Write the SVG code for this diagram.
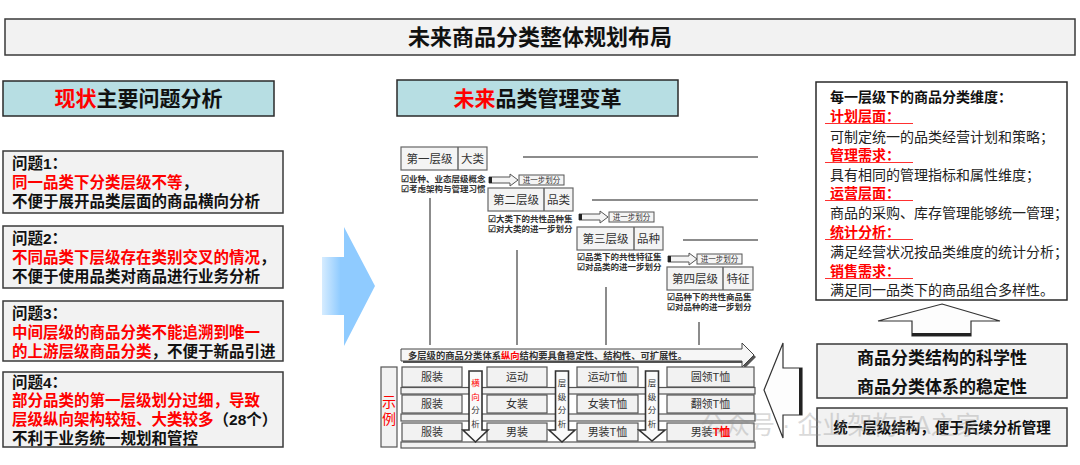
<svg xmlns="http://www.w3.org/2000/svg" width="1080" height="465" viewBox="0 0 1080 465">
<style>
text{font-family:"Liberation Sans","Noto Sans CJK SC",sans-serif;}
.box{fill:#f2f2f2;stroke:#3a3a3a;stroke-width:1.5;}
.hdr{fill:#b7dee3;stroke:#2a2a2a;stroke-width:1.5;}
.big{font-size:21px;font-weight:bold;fill:#111;}
.pb{font-size:15.5px;font-weight:bold;fill:#111;}
.red{fill:#ff0000;}
.lv{fill:#f4f4f4;stroke:#666;stroke-width:1.2;}
.lvt{font-size:11.5px;fill:#333;text-anchor:middle;}
.chk{font-size:8.5px;font-weight:bold;fill:#333;}
.sm{font-size:7.5px;fill:#333;text-anchor:middle;}
.ln{stroke:#666;stroke-width:1.5;fill:none;}
.sa{fill:#f4f4f4;stroke:#555;stroke-width:1;}
.cell{fill:#f2f2f2;stroke:#555;stroke-width:1.2;}
.ct{font-size:11px;fill:#333;text-anchor:middle;}
.da{fill:#fafafa;stroke:#333;stroke-width:1.6;}
.dt{font-size:8.5px;fill:#333;text-anchor:middle;}
.rp{font-size:14px;fill:#222;}
.rl{font-size:14px;font-weight:bold;fill:#ff0000;}
.ul{stroke:#ff3030;stroke-width:1.2;}
.blk{fill:#fdfdfd;stroke:#333;stroke-width:1.2;}
</style>
<defs>
<linearGradient id="blue" x1="0" y1="0" x2="1" y2="0">
<stop offset="0" stop-color="#d6ecff"/>
<stop offset="0.35" stop-color="#8fcbff"/>
<stop offset="1" stop-color="#8fcbff"/>
</linearGradient>
<clipPath id="rclip"><rect x="817" y="82" width="250" height="218"/></clipPath>
</defs>

<!-- title -->
<g id="title">
<rect class="box" x="5" y="19" width="1070" height="36"/>
<text x="540" y="45" class="big" style="font-size:22px" text-anchor="middle">未来商品分类整体规划布局</text>
</g>

<!-- headers -->
<g id="hdr-left">
<rect class="hdr" x="3" y="81" width="271" height="35"/>
<text x="138.5" y="106" class="big" text-anchor="middle"><tspan class="red">现状</tspan>主要问题分析</text>
</g>
<g id="hdr-mid">
<rect class="hdr" x="397" y="80" width="281" height="36"/>
<text x="537.5" y="105.5" class="big" text-anchor="middle"><tspan class="red">未来</tspan>品类管理变革</text>
</g>

<!-- problems -->
<g id="problem1">
<rect class="box" x="3" y="151" width="280" height="62"/>
<text x="12" y="169" class="pb">问题1：</text>
<text x="12" y="188" class="pb"><tspan class="red">同一品类下分类层级不等</tspan>，</text>
<text x="12" y="207" class="pb">不便于展开品类层面的商品横向分析</text>
</g>
<g id="problem2">
<rect class="box" x="3" y="226" width="280" height="62"/>
<text x="12" y="244" class="pb">问题2：</text>
<text x="12" y="263" class="pb"><tspan class="red">不同品类下层级存在类别交叉的情况</tspan>，</text>
<text x="12" y="282" class="pb">不便于使用品类对商品进行业务分析</text>
</g>
<g id="problem3">
<rect class="box" x="3" y="301" width="280" height="60"/>
<text x="12" y="319" class="pb">问题3：</text>
<text x="12" y="338" class="pb"><tspan class="red">中间层级的商品分类不能追溯到唯一</tspan></text>
<text x="12" y="357" class="pb"><tspan class="red">的上游层级商品分类</tspan>，不便于新品引进</text>
</g>
<g id="problem4">
<rect class="box" x="3" y="372" width="280" height="75"/>
<text x="12" y="388" class="pb">问题4：</text>
<text x="12" y="406" class="pb"><tspan class="red">部分品类的第一层级划分过细，导致</tspan></text>
<text x="12" y="425" class="pb"><tspan class="red">层级纵向架构较短、大类较多</tspan>（28个）</text>
<text x="12" y="444" class="pb">不利于业务统一规划和管控</text>
</g>

<!-- blue arrow -->
<g id="blue-arrow">
<polygon points="322,257 344,257 344,227 375,286 344,346 344,315 322,315" fill="url(#blue)"/>
</g>

<!-- connectors / lines of staircase -->
<g id="connectors">
<line class="ln" x1="523" y1="157" x2="758" y2="157"/>
<line class="ln" x1="592" y1="200" x2="758" y2="200"/>
<line class="ln" x1="683" y1="240" x2="758" y2="240"/>
<line class="ln" x1="430" y1="198" x2="430" y2="345"/>
<line class="ln" x1="517" y1="250" x2="517" y2="345"/>
<line class="ln" x1="606" y1="287" x2="606" y2="345"/>
<line class="ln" x1="699" y1="322" x2="699" y2="345"/>
</g>

<!-- level 1 -->
<g id="level1">
<rect class="lv" x="401" y="147" width="86" height="23"/>
<line class="ln" x1="458" y1="147" x2="458" y2="170" stroke-width="1.2"/>
<text x="429.5" y="163" class="lvt">第一层级</text>
<text x="472.5" y="163" class="lvt">大类</text>
<text x="401" y="182" class="chk">☑业种、业态层级概念</text>
<text x="401" y="191.5" class="chk">☑考虑架构与管理习惯</text>
<polygon class="sa" points="489,177 510,177 510,174 518,180 510,186 510,183 489,183"/>
<rect x="489" y="177" width="3" height="6" fill="#222"/>
<rect class="sa" x="519" y="175" width="45" height="10"/>
<text x="541.5" y="182.8" class="sm">进一步划分</text>
</g>

<!-- level 2 -->
<g id="level2">
<rect class="lv" x="488" y="188" width="85" height="23"/>
<line class="ln" x1="544" y1="188" x2="544" y2="211" stroke-width="1.2"/>
<text x="516" y="204" class="lvt">第二层级</text>
<text x="558.5" y="204" class="lvt">品类</text>
<text x="488" y="222" class="chk">☑大类下的共性品种集</text>
<text x="488" y="232" class="chk">☑对大类的进一步划分</text>
<polygon class="sa" points="579,214 600,214 600,211 608,217 600,223 600,220 579,220"/>
<rect x="579" y="214" width="3" height="6" fill="#222"/>
<rect class="sa" x="609" y="212" width="45" height="10"/>
<text x="631.5" y="219.8" class="sm">进一步划分</text>
</g>

<!-- level 3 -->
<g id="level3">
<rect class="lv" x="577" y="227" width="86" height="23"/>
<line class="ln" x1="634" y1="227" x2="634" y2="250" stroke-width="1.2"/>
<text x="605.5" y="243" class="lvt">第三层级</text>
<text x="648.5" y="243" class="lvt">品种</text>
<text x="577" y="260" class="chk">☑品类下的共性特征集</text>
<text x="577" y="270" class="chk">☑对品类的进一步划分</text>
<polygon class="sa" points="668,256 689,256 689,253 697,259 689,265 689,262 668,262"/>
<rect x="668" y="256" width="3" height="6" fill="#222"/>
<rect class="sa" x="697" y="254" width="45" height="10"/>
<text x="719.5" y="261.8" class="sm">进一步划分</text>
</g>

<!-- level 4 -->
<g id="level4">
<rect class="lv" x="667" y="267" width="86" height="23"/>
<line class="ln" x1="723" y1="267" x2="723" y2="290" stroke-width="1.2"/>
<text x="695" y="283" class="lvt">第四层级</text>
<text x="738" y="283" class="lvt">特征</text>
<text x="667" y="300" class="chk">☑品种下的共性商品集</text>
<text x="667" y="310" class="chk">☑对品种的进一步划分</text>
</g>

<!-- big horizontal arrow -->
<g id="stability-arrow">
<polygon points="403,351 744,351 744,345 756,357 744,369 744,363 403,363" fill="#555"/>
<polygon points="401,349 742,349 742,343 754,355 742,367 742,361 401,361" fill="#f6f6f6" stroke="#444" stroke-width="1"/>
<text x="408" y="358.5" class="chk" style="font-size:9.3px">多层级的商品分类体系<tspan class="red">纵向</tspan>结构要具备稳定性、结构性、可扩展性。</text>
</g>

<!-- example table -->
<g id="example">
<rect class="cell" x="381" y="367" width="16" height="80"/>
<text x="389" y="407" font-size="14" fill="#ff0000" text-anchor="middle">示</text>
<text x="389" y="424" font-size="14" fill="#ff0000" text-anchor="middle">例</text>
<rect class="cell" x="401" y="387.5" width="354" height="6.5"/>
<rect class="cell" x="401" y="414" width="354" height="7"/>
<rect class="cell" x="401" y="442" width="354" height="6"/>
<rect class="cell" x="402" y="367" width="60" height="20"/>
<rect class="cell" x="402" y="395" width="60" height="18"/>
<rect class="cell" x="402" y="423" width="60" height="18"/>
<text x="432" y="381" class="ct">服装</text>
<text x="432" y="408" class="ct">服装</text>
<text x="432" y="436" class="ct">服装</text>
<rect class="cell" x="487" y="367" width="60" height="20"/>
<rect class="cell" x="487" y="395" width="60" height="18"/>
<rect class="cell" x="487" y="423" width="60" height="18"/>
<text x="517" y="381" class="ct">运动</text>
<text x="517" y="408" class="ct">女装</text>
<text x="517" y="436" class="ct">男装</text>
<rect class="cell" x="577" y="367" width="61" height="20"/>
<rect class="cell" x="577" y="395" width="61" height="18"/>
<rect class="cell" x="577" y="423" width="61" height="18"/>
<text x="607.5" y="381" class="ct">运动T恤</text>
<text x="607.5" y="408" class="ct">女装T恤</text>
<text x="607.5" y="436" class="ct">男装T恤</text>
<rect class="cell" x="667" y="367" width="87" height="20"/>
<rect class="cell" x="667" y="395" width="87" height="18"/>
<rect class="cell" x="667" y="423" width="87" height="18"/>
<text x="710.5" y="381" class="ct">圆领T恤</text>
<text x="710.5" y="408" class="ct">翻领T恤</text>
<text x="710.5" y="436" class="ct">男装<tspan fill="#ff0000" font-weight="bold">T恤</tspan></text>
<polygon class="da" points="469,371 482,371 482,430 488,430 475.5,442 463,430 469,430"/>
<text x="475.5" y="386" class="dt" style="fill:#ff0000">横</text>
<text x="475.5" y="399.5" class="dt" style="fill:#ff0000">向</text>
<text x="475.5" y="413" class="dt">分</text>
<text x="475.5" y="426.5" class="dt">析</text>
<polygon class="da" points="555.5,371 568.5,371 568.5,430 575,430 562,442 549,430 555.5,430"/>
<text x="562" y="386" class="dt">层</text>
<text x="562" y="399.5" class="dt">级</text>
<text x="562" y="413" class="dt">分</text>
<text x="562" y="426.5" class="dt">析</text>
<polygon class="da" points="645.5,371 658.5,371 658.5,430 665,430 652,441 639,430 645.5,430"/>
<text x="652" y="386" class="dt">层</text>
<text x="652" y="399.5" class="dt">级</text>
<text x="652" y="413" class="dt">分</text>
<text x="652" y="426.5" class="dt">析</text>
</g>

<!-- right panel -->
<g id="dimensions">
<rect x="816" y="82" width="251" height="218" fill="#ffffff" stroke="#2a2a2a" stroke-width="1.5"/>
<g clip-path="url(#rclip)">
<text x="830" y="102" class="rp" font-weight="bold" style="fill:#111">每一层级下的商品分类维度：</text>
<text x="830" y="121" class="rl">计划层面：</text>
<line class="ul" x1="825" y1="123.5" x2="913" y2="123.5"/>
<text x="830" y="142" class="rp">可制定统一的品类经营计划和策略；</text>
<text x="830" y="160" class="rl">管理需求：</text>
<line class="ul" x1="825" y1="162.5" x2="913" y2="162.5"/>
<text x="830" y="180" class="rp">具有相同的管理指标和属性维度；</text>
<text x="830" y="198" class="rl">运营层面：</text>
<line class="ul" x1="825" y1="200.5" x2="913" y2="200.5"/>
<text x="830" y="218" class="rp">商品的采购、库存管理能够统一管理；</text>
<text x="830" y="237" class="rl">统计分析：</text>
<line class="ul" x1="825" y1="239.5" x2="913" y2="239.5"/>
<text x="830" y="257" class="rp">满足经营状况按品类维度的统计分析；</text>
<text x="830" y="276" class="rl">销售需求：</text>
<line class="ul" x1="825" y1="278.5" x2="913" y2="278.5"/>
<text x="830" y="295" class="rp">满足同一品类下的商品组合多样性。</text>
</g>
</g>

<g id="up-arrow">
<polygon class="blk" points="942,304 1000,321 971,321 971,336 912,336 912,321 878,321"/>
<line x1="912" y1="334.5" x2="971" y2="334.5" stroke="#222" stroke-width="3"/>
</g>

<g id="science">
<rect class="box" x="817" y="344" width="250" height="54"/>
<text x="942" y="364" text-anchor="middle" font-size="17" font-weight="bold" fill="#111">商品分类结构的科学性</text>
<text x="942" y="393" text-anchor="middle" font-size="17" font-weight="bold" fill="#111">商品分类体系的稳定性</text>
</g>

<g id="unify">
<rect class="box" x="817" y="408" width="250" height="38"/>
<text x="942" y="433" text-anchor="middle" font-size="14.5" font-weight="bold" fill="#111">统一层级结构，便于后续分析管理</text>
</g>

<g id="left-arrow">
<polygon class="blk" points="764,390 783,343 783,368 802,368 802,415 783,415 783,438"/>
<line x1="800.5" y1="368" x2="800.5" y2="415" stroke="#222" stroke-width="3"/>
</g>

<!-- watermark -->
<g id="watermark" opacity="0.3">
<text x="700" y="434" font-size="25" fill="#888">公众号 · 企业架构EA之家</text>
</g>
</svg>
